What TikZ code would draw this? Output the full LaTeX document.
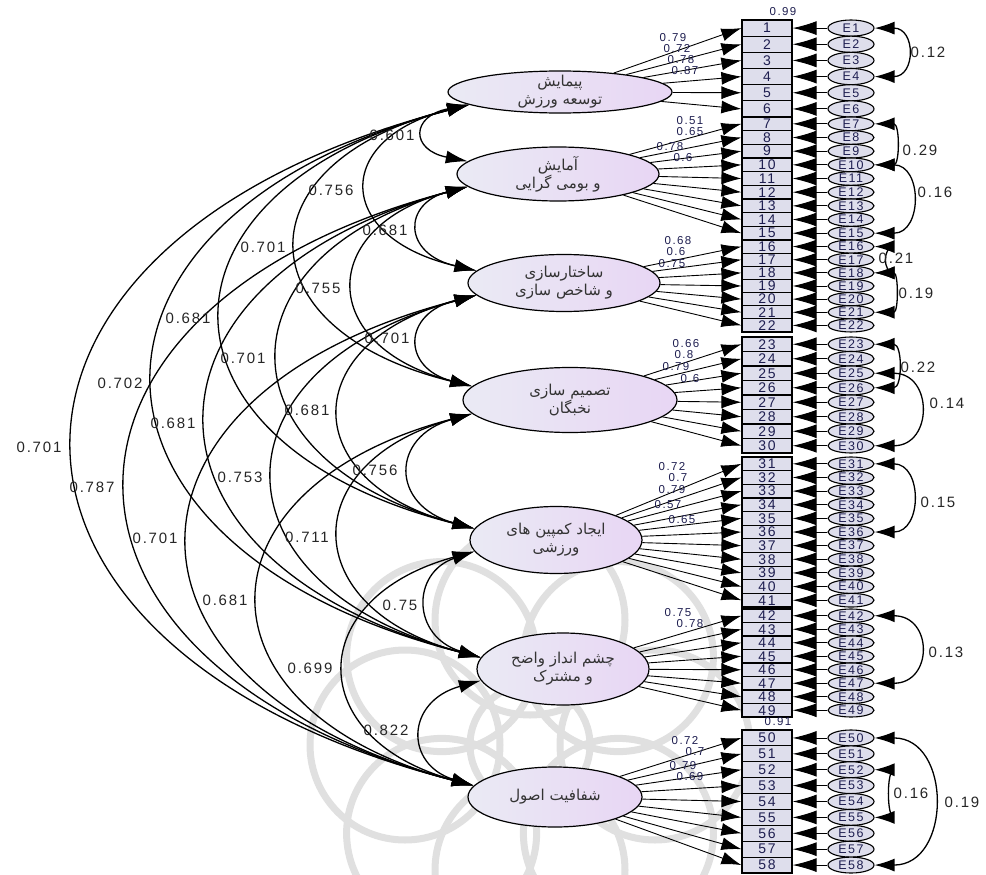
\documentclass[tikz,border=0pt]{standalone}
\usepackage{fontspec}
\setmainfont{Liberation Sans}
\newfontfamily\fafont[Script=Arabic]{DejaVu Sans}
\newfontfamily\numfont[LetterSpace=12]{Liberation Sans}
\TeXXeTstate=1
\usetikzlibrary{shapes.geometric,arrows.meta,calc}
\definecolor{latL}{RGB}{234,234,244}
\definecolor{latR}{RGB}{232,214,244}
\definecolor{boxfill}{RGB}{222,222,236}
\definecolor{navy}{RGB}{30,30,80}
\definecolor{wmark}{RGB}{224,224,224}
\begin{document}
\begin{tikzpicture}[x=1pt,y=-1pt,
  lat/.style={ellipse, draw, line width=1.2pt, left color=latL, right color=latR, inner sep=0pt},
  lattxt/.style={font=\fafont\fontsize{15}{18}\selectfont, align=center, inner sep=0pt, text=black!80},
  obs/.style={rectangle, draw, line width=1.2pt, fill=boxfill, minimum width=50pt, inner sep=0pt, font=\numfont\fontsize{14}{14}\selectfont, text=navy},
  errn/.style={ellipse, draw, line width=1.1pt, fill=boxfill, minimum width=46pt, inner sep=0pt, font=\numfont\fontsize{12.5}{12.5}\selectfont, text=navy},
  load/.style={-{Latex[length=20pt,width=13pt]}, line width=0.9pt},
  errarr/.style={-{Latex[length=24pt,width=14pt]}, line width=0.9pt},
  cov/.style={{Latex[length=22pt,width=13pt]}-{Latex[length=22pt,width=13pt]}, line width=1.3pt},
  ecov/.style={{Latex[length=20pt,width=13pt]}-{Latex[length=20pt,width=13pt]}, line width=1.3pt},
  clab/.style={font=\numfont\fontsize{15}{15}\selectfont, inner sep=0pt, text=black!85},
  llab/.style={font=\numfont\fontsize{11.5}{11.5}\selectfont, inner sep=0pt, text=navy},
]
\useasboundingbox (0,0) rectangle (986,875);
\fill[white] (0,0) rectangle (986,875);

% watermark
\begin{scope}[draw=wmark, line width=7pt]
  \foreach \a in {0,45,...,315}
    \draw ($(530,745)+(\a:125)$) circle[radius=95pt];
  \draw (530,745) circle[radius=60pt];
\end{scope}

% latent variables
\node[lat, minimum width=224pt, minimum height=42pt] (e1) at (560,92) {};
\node[lat, minimum width=202pt, minimum height=54pt] (e2) at (558,174) {};
\node[lat, minimum width=192pt, minimum height=57pt] (e3) at (564,283) {};
\node[lat, minimum width=214pt, minimum height=65pt] (e4) at (570,400) {};
\node[lat, minimum width=172pt, minimum height=67pt] (e5) at (556,540) {};
\node[lat, minimum width=172pt, minimum height=72pt] (e6) at (563,669) {};
\node[lat, minimum width=174pt, minimum height=60pt] (e7) at (555,797) {};

\node[lattxt] (t1) at (e1) {\beginR پیمایش\endR\\\beginR توسعه ورزش\endR};
\node[lattxt] (t2) at (e2) {\beginR آمایش\endR\\\beginR و بومی گرایی\endR};
\node[lattxt] (t3) at (e3) {\beginR ساختارسازی\endR\\\beginR و شاخص سازی\endR};
\node[lattxt] (t4) at (e4) {\beginR تصمیم سازی\endR\\\beginR نخبگان\endR};
\node[lattxt] (t5) at (e5) {\beginR ایجاد کمپین های\endR\\\beginR ورزشی\endR};
\node[lattxt] (t6) at (e6) {\beginR چشم انداز واضح\endR\\\beginR و مشترک\endR};
\node[lattxt] (t7) at (e7) {\beginR شفافیت اصول\endR};

\foreach \k in {1,...,7}{
  \coordinate (u\k) at (e\k.172);
  \coordinate (l\k) at (e\k.188);
}

% observed items, errors, loadings
\foreach \ga/\gb/\gs/\gp/\ge in {1/6/20/16.17/1, 7/15/117/13.67/2, 16/22/240/13.14/3, 23/30/337/14.5/4, 31/41/457/13.64/5, 42/49/609/13.5/6, 50/58/730/15.89/7}{
  \foreach \nn in {\ga,...,\gb}{
    \pgfmathsetmacro\yy{\gs+(\nn-\ga+0.5)*\gp}
    \node[obs, minimum height=\gp pt] (b\nn) at (767,\yy) {\nn};
    \node[errn, minimum height=\gp pt] (E\nn) at (851,\yy) {E\nn};
    \draw[load] (e\ge) -- (b\nn.west);
    \draw[errarr] (E\nn) -- (b\nn.east);
  }
}

% covariances between latent variables
\foreach \i/\j/\ax in {1/2/425, 1/3/368, 1/4/298, 1/5/223, 1/6/155, 1/7/75, 2/3/420, 2/4/355, 2/5/280, 2/6/208, 2/7/128, 3/4/420, 3/5/341, 3/6/275, 3/7/190, 4/5/411, 4/6/341, 4/7/260, 5/6/428, 5/7/346, 6/7/423}{
  \draw[cov] let \p1=(l\i), \p2=(u\j), \n1={(\ax*1pt-0.125*(\x1+\x2))/0.75}, \n2={0.2*(\y2-\y1)} in
    (\p1) .. controls (\n1,{\y1+\n2}) and (\n1,{\y2-\n2}) .. (\p2);
}

\foreach \tx/\px/\py [count=\k] in {0.601/392/135, 0.756/331/190, 0.681/385/230, 0.701/263/247, 0.755/318/288, 0.681/188/318, 0.701/387/338, 0.701/243/358, 0.702/120/383, 0.681/307/410, 0.681/173/423, 0.701/39/447, 0.756/375/470, 0.753/240/477, 0.787/92/487, 0.711/307/537, 0.701/155/538, 0.681/225/600, 0.75/400/605, 0.699/310/668, 0.822/386/730}
  \node[clab] (cl\k) at (\px,\py) {\tx};

% error covariances
\foreach \ea/\eb/\ap in {1/4/905, 7/10/893, 10/15/910, 16/18/880, 18/21/892, 23/26/895, 25/30/918, 31/36/910, 42/47/918, 52/55/883, 50/58/932}{
  \pgfmathsetmacro\cc{(\ap-874)/0.75}
  \draw[ecov] (E\ea.east) .. controls +(\cc,0) and +(\cc,0) .. (E\eb.east);
}
\foreach \tx/\px/\py [count=\k] in {0.12/928/52, 0.29/920/150, 0.16/935/192, 0.21/896/258, 0.19/916/293, 0.22/918/367, 0.14/947/403, 0.15/938/502, 0.13/946/652, 0.16/911/793, 0.19/962/802}
  \node[clab] (el\k) at (\px,\py) {\tx};

% loading labels
\foreach \tx/\px/\py [count=\k] in {0.79/673/38, 0.72/677/49, 0.78/681/60, 0.87/685/71, 0.51/690/121, 0.65/690/132, 0.78/670/147, 0.6/683/158, 0.68/678/241, 0.6/676/252, 0.75/672/264, 0.66/686/344, 0.8/684/355, 0.79/676/367, 0.6/690/379, 0.72/672/467, 0.7/678/478, 0.79/672/490, 0.57/668/505, 0.65/682/520, 0.75/678/613, 0.78/690/624, 0.72/685/741, 0.7/695/752, 0.79/683/766, 0.69/690/777}
  \node[llab] (ll\k) at (\px,\py) {\tx};

\node[llab] (r1) at (783,12) {0.99};
\node[llab] (r50) at (778,722) {0.91};
\end{tikzpicture}
\end{document}
